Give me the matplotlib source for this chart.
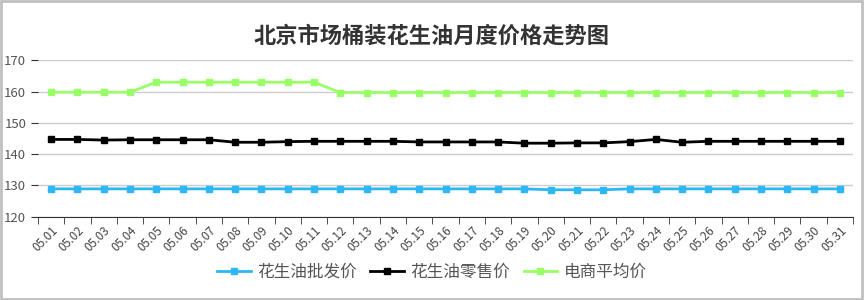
import matplotlib.pyplot as plt
import numpy as np
from matplotlib.patches import Rectangle

plt.rcParams['font.family'] = ['Noto Sans CJK SC', 'DejaVu Sans']

days = ["05.%02d" % d for d in range(1, 32)]
wholesale = [128.9] * 19 + [128.6, 128.6, 128.6] + [128.9] * 9
retail = [144.7, 144.7, 144.5, 144.6, 144.6, 144.6, 144.6, 143.8, 143.8, 144.0,
          144.1, 144.1, 144.1, 144.1, 143.9, 143.9, 143.9, 143.9, 143.5, 143.5,
          143.6, 143.6, 144.0, 144.7, 143.8, 144.1, 144.1, 144.1, 144.1, 144.1, 144.1]
ecommerce = [159.8] * 4 + [163.0] * 7 + [159.7] * 20

fig = plt.figure(figsize=(8.64, 3.0), dpi=100)
ax = fig.add_axes([38 / 864, 1 - 216.7 / 300, 815 / 864, 156.4 / 300])

x = np.arange(len(days))
ax.plot(x, wholesale, color='#2db7f5', lw=2, marker='s', ms=4, label='花生油批发价')
ax.plot(x, retail, color='#000000', lw=2, marker='s', ms=4, label='花生油零售价')
ax.plot(x, ecommerce, color='#99ff66', lw=2, marker='s', ms=4, label='电商平均价')

ax.set_xlim(-0.5, len(days) - 0.5)
ax.set_ylim(120, 170)
ax.set_yticks([120, 130, 140, 150, 160, 170])
ax.grid(axis='y', color='#cccccc', lw=1)
ax.set_axisbelow(True)
for s in ['top', 'right', 'left']:
    ax.spines[s].set_visible(False)
ax.spines['bottom'].set_color('#333333')

ax.set_xticks(x)
ax.set_xticklabels(days, rotation=45, ha='right', rotation_mode='anchor', fontsize=8.5, color='#444444')
ax.set_xticks(np.arange(-0.5, len(days)), minor=True)
ax.tick_params(axis='x', which='major', length=0, pad=5)
ax.tick_params(axis='x', which='minor', length=5, color='#333333')
ax.tick_params(axis='y', length=5, color='#333333', labelsize=9.5, labelcolor='#555555')

fig.text(0.5, 0.88, '北京市场桶装花生油月度价格走势图', ha='center', va='center',
         fontsize=16, fontweight='bold', color='#333333')

leg = fig.legend(loc='center', bbox_to_anchor=(0.5, 0.093), ncol=3, frameon=False,
                 fontsize=12, handlelength=2.0, handletextpad=0.4, columnspacing=0.8)
for t in leg.get_texts():
    t.set_color('#555555')

fig.patches.append(Rectangle((0.001, 0.003), 0.997, 0.994, transform=fig.transFigure,
                             fill=False, edgecolor='#c0c0c0', lw=2))

plt.savefig('out.png', dpi=100)
